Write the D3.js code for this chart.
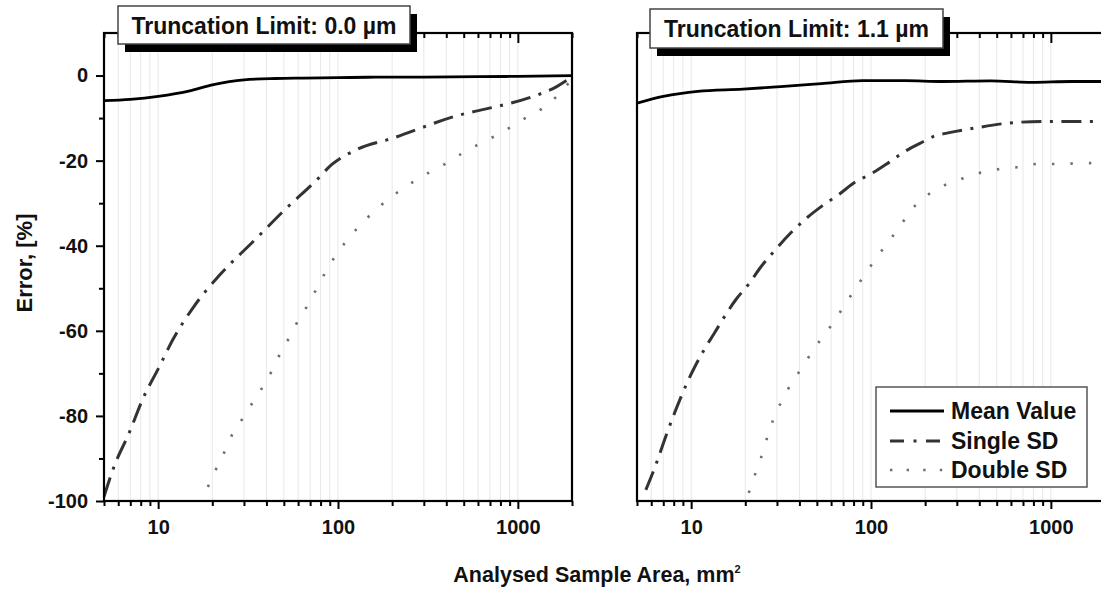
<!DOCTYPE html>
<html>
<head>
<meta charset="utf-8">
<script src="https://cdn.jsdelivr.net/npm/d3@7"></script>
<style>
  body { margin: 0; background: #fff; }
  svg { display: block; font-family: "Liberation Sans", Arial, sans-serif; font-weight: bold; }
</style>
</head>
<body>
<svg id="chart" width="1101" height="589"></svg>
<script>
// ---- data ----
var panelTitles = ["Truncation Limit: 0.0 \u00b5m", "Truncation Limit: 1.1 \u00b5m"];
var xTickLabels = [10, 100, 1000];
var yTickLabels = [0, -20, -40, -60, -80, -100];
var seriesNames = ["Mean Value", "Single SD", "Double SD"];

// panel 1 (0.0 um)
var meanA = [[5,-5.9],[7,-5.6],[10,-4.9],[15,-3.6],[20,-2.2],[30,-1],[45,-0.7],[64,-0.6],[100,-0.5],[146,-0.4],[300,-0.35],[600,-0.25],[1000,-0.2],[2000,0]];
var singleA = [[5,-99],[5.7,-91.8],[6.9,-84],[8.2,-76.1],[10.1,-68.6],[12.1,-62],[15.8,-54.3],[22.3,-46.6],[34,-38.9],[51,-31.4],[75,-24.8],[92.5,-20.9],[127,-17.4],[202,-14.7],[481,-9.2],[724,-7.5],[1200,-5],[1644,-2.6],[2000,-0.3]];
var doubleA = [[18.9,-96.7],[20.6,-93.2],[22.8,-89.5],[25,-85.5],[28.4,-81.7],[34.2,-76.3],[38.9,-72.6],[43.5,-68.9],[48,-65.1],[53.6,-61.6],[60,-57.6],[68,-53.9],[76,-50.1],[85,-46.3],[96,-42.6],[108,-39.6],[128,-35.9],[158,-32],[194,-28.8],[240,-26],[318,-22.9],[393,-20.8],[481,-18.5],[590,-16.4],[724,-14.5],[888,-12.4],[1090,-10.1],[1340,-8],[1644,-4.9],[2000,-0.8]];

// panel 2 (1.1 um)
var meanB = [[5,-6.5],[7,-4.9],[10.9,-3.7],[19.4,-3.2],[31.5,-2.6],[53,-1.9],[90,-1.2],[154,-1.2],[250,-1.4],[463,-1.25],[782,-1.6],[1300,-1.4],[2000,-1.4]];
var singleB = [[5.6,-97.4],[6.3,-92],[7.3,-84.3],[8.67,-76.1],[9.5,-72.2],[10.5,-68.4],[11.9,-64.2],[13.4,-60.7],[15.2,-56.9],[17.7,-52.7],[20.9,-49],[24.4,-45],[29.6,-40.8],[35.4,-37.2],[43.3,-33.7],[53.3,-30.7],[66.5,-27.9],[81.3,-25.1],[102,-22.9],[122,-20.8],[152,-18],[196,-15.5],[223,-14.3],[260,-13.6],[372,-12.4],[575,-11.2],[902,-10.8],[2000,-10.8]];
var doubleB = [[20.9,-98.1],[22.3,-94.6],[24,-90.9],[25.6,-87.1],[27.4,-83.1],[29.4,-79.6],[32.8,-75.6],[36.3,-72.1],[41.9,-68.4],[47.4,-64.6],[55.3,-60.9],[63.8,-57.1],[70.6,-54.3],[80.3,-50.6],[92.4,-46.8],[106,-43.1],[124,-39.3],[145,-35.4],[169,-31.4],[209,-27.9],[255,-25.8],[298,-24.8],[372,-23.2],[454,-22.5],[565,-21.7],[688,-21.5],[830,-20.8],[1020,-20.8],[1550,-20.6],[2000,-20.5]];

var panelData = [[meanA, singleA, doubleA], [meanB, singleB, doubleB]];

// ---- layout ----
var svg = d3.select("#chart");
var panelLeft = [104, 637];
var panelW = 468, plotTop = 33, plotBottom = 501;
var titleBox = [{dx: 14, y: 6, w: 292, h: 38}, {dx: 13, y: 9, w: 293, h: 39}];

var minorX = [5,6,7,8,9,20,30,40,50,60,70,80,90,200,300,400,500,600,700,800,900,2000];
var gridX = minorX.concat(xTickLabels);
var minorY = [-90,-70,-50,-30,-10];

var styles = [
  {stroke: "#000", width: 2.8, dash: null, legendDash: null},
  {stroke: "#333", width: 3, dash: "20,8.5,3,8.5", legendDash: "14,9.5,3,9.5"},
  {stroke: "#6e6e6e", width: 2.6, dash: "2.4,16.1", legendDash: "2.4,14.2"}
];

var plain = function(d) { return String(d); };
var y = d3.scaleLinear().domain([-100, 10]).range([plotBottom, plotTop]);

panelLeft.forEach(function(px, i) {
  var x = d3.scaleLog().domain([5, 2000]).range([px, px + panelW]);
  var g = svg.append("g");

  g.append("clipPath").attr("id", "clip" + i)
    .append("rect").attr("x", px).attr("y", plotTop).attr("width", panelW).attr("height", plotBottom - plotTop);

  // faint vertical grid
  g.append("g").selectAll("line").data(gridX).enter().append("line")
    .attr("x1", function(d) { return x(d); }).attr("x2", function(d) { return x(d); })
    .attr("y1", plotTop).attr("y2", plotBottom)
    .attr("stroke", "#e8e8e8").attr("stroke-width", 1);

  // curves
  var line = d3.line()
    .x(function(d) { return x(d[0]); })
    .y(function(d) { return y(d[1]); })
    .curve(d3.curveMonotoneX);

  var lines = g.append("g").attr("clip-path", "url(#clip" + i + ")");
  panelData[i].forEach(function(s, k) {
    lines.append("path").datum(s)
      .attr("d", line)
      .attr("fill", "none")
      .attr("stroke", styles[k].stroke)
      .attr("stroke-width", styles[k].width)
      .attr("stroke-dasharray", styles[k].dash);
  });

  // bottom axis
  var bx = g.append("g").attr("transform", "translate(0," + plotBottom + ")");
  bx.call(d3.axisBottom(x).tickValues(xTickLabels).tickSize(8).tickPadding(11).tickFormat(plain));
  bx.append("g").call(d3.axisBottom(x).tickValues(minorX).tickSize(5).tickFormat(""));

  // top axis, ticks inward
  var tx = g.append("g").attr("transform", "translate(0," + plotTop + ")");
  tx.call(d3.axisTop(x).tickValues(xTickLabels).tickSize(-10).tickFormat(""));
  tx.append("g").call(d3.axisTop(x).tickValues(minorX).tickSize(-5).tickFormat(""));

  // left axis (labels only on first panel)
  var ly = g.append("g").attr("transform", "translate(" + px + ",0)");
  if (i === 0) {
    ly.call(d3.axisLeft(y).tickValues(yTickLabels).tickSize(8).tickPadding(8).tickFormat(plain));
    ly.append("g").call(d3.axisLeft(y).tickValues(minorY).tickSize(5).tickFormat(""));
  }

  g.selectAll(".domain").remove();
  g.selectAll(".tick line").attr("stroke", "#000").attr("stroke-width", 2);
  g.selectAll(".tick text").attr("fill", "#111").style("font-size", "20px")
    .style("font-family", "'Liberation Sans', Arial, sans-serif").style("font-weight", "bold");

  // frame
  g.append("rect").attr("x", px).attr("y", plotTop).attr("width", panelW).attr("height", plotBottom - plotTop)
    .attr("fill", "none").attr("stroke", "#000").attr("stroke-width", 2.2);

  // title box with shadow
  var tb = titleBox[i];
  g.append("rect").attr("x", px + tb.dx + 7).attr("y", tb.y + 8).attr("width", tb.w).attr("height", tb.h).attr("fill", "#000");
  g.append("rect").attr("x", px + tb.dx).attr("y", tb.y).attr("width", tb.w).attr("height", tb.h)
    .attr("fill", "#fff").attr("stroke", "#444").attr("stroke-width", 1.5);
  g.append("text").attr("x", px + tb.dx + tb.w / 2).attr("y", tb.y + 28)
    .attr("text-anchor", "middle").style("font-size", "23px").attr("fill", "#111")
    .text(panelTitles[i]);

  // legend in the second panel
  if (i === 1) {
    var lg = g.append("g");
    lg.append("rect").attr("x", 876).attr("y", 387).attr("width", 211).attr("height", 100)
      .attr("fill", "#fff").attr("stroke", "#555").attr("stroke-width", 1.5);
    var rows = [411, 441, 470];
    seriesNames.forEach(function(name, k) {
      lg.append("line").attr("x1", 890).attr("x2", 944).attr("y1", rows[k]).attr("y2", rows[k])
        .attr("stroke", styles[k].stroke).attr("stroke-width", styles[k].width)
        .attr("stroke-dasharray", styles[k].legendDash);
      lg.append("text").attr("x", 951).attr("y", rows[k] + 8)
        .style("font-size", "23px").attr("fill", "#111").text(name);
    });
  }
});

// axis titles
svg.append("text")
  .attr("transform", "translate(32,263) rotate(-90)")
  .attr("text-anchor", "middle").style("font-size", "22px").attr("fill", "#111")
  .text("Error, [%]");

var xt = svg.append("text").attr("x", 597).attr("y", 582)
  .attr("text-anchor", "middle").style("font-size", "21.5px").attr("fill", "#111");
xt.append("tspan").text("Analysed Sample Area, mm");
xt.append("tspan").attr("dy", -9).style("font-size", "11px").text("2");
</script>
</body>
</html>
